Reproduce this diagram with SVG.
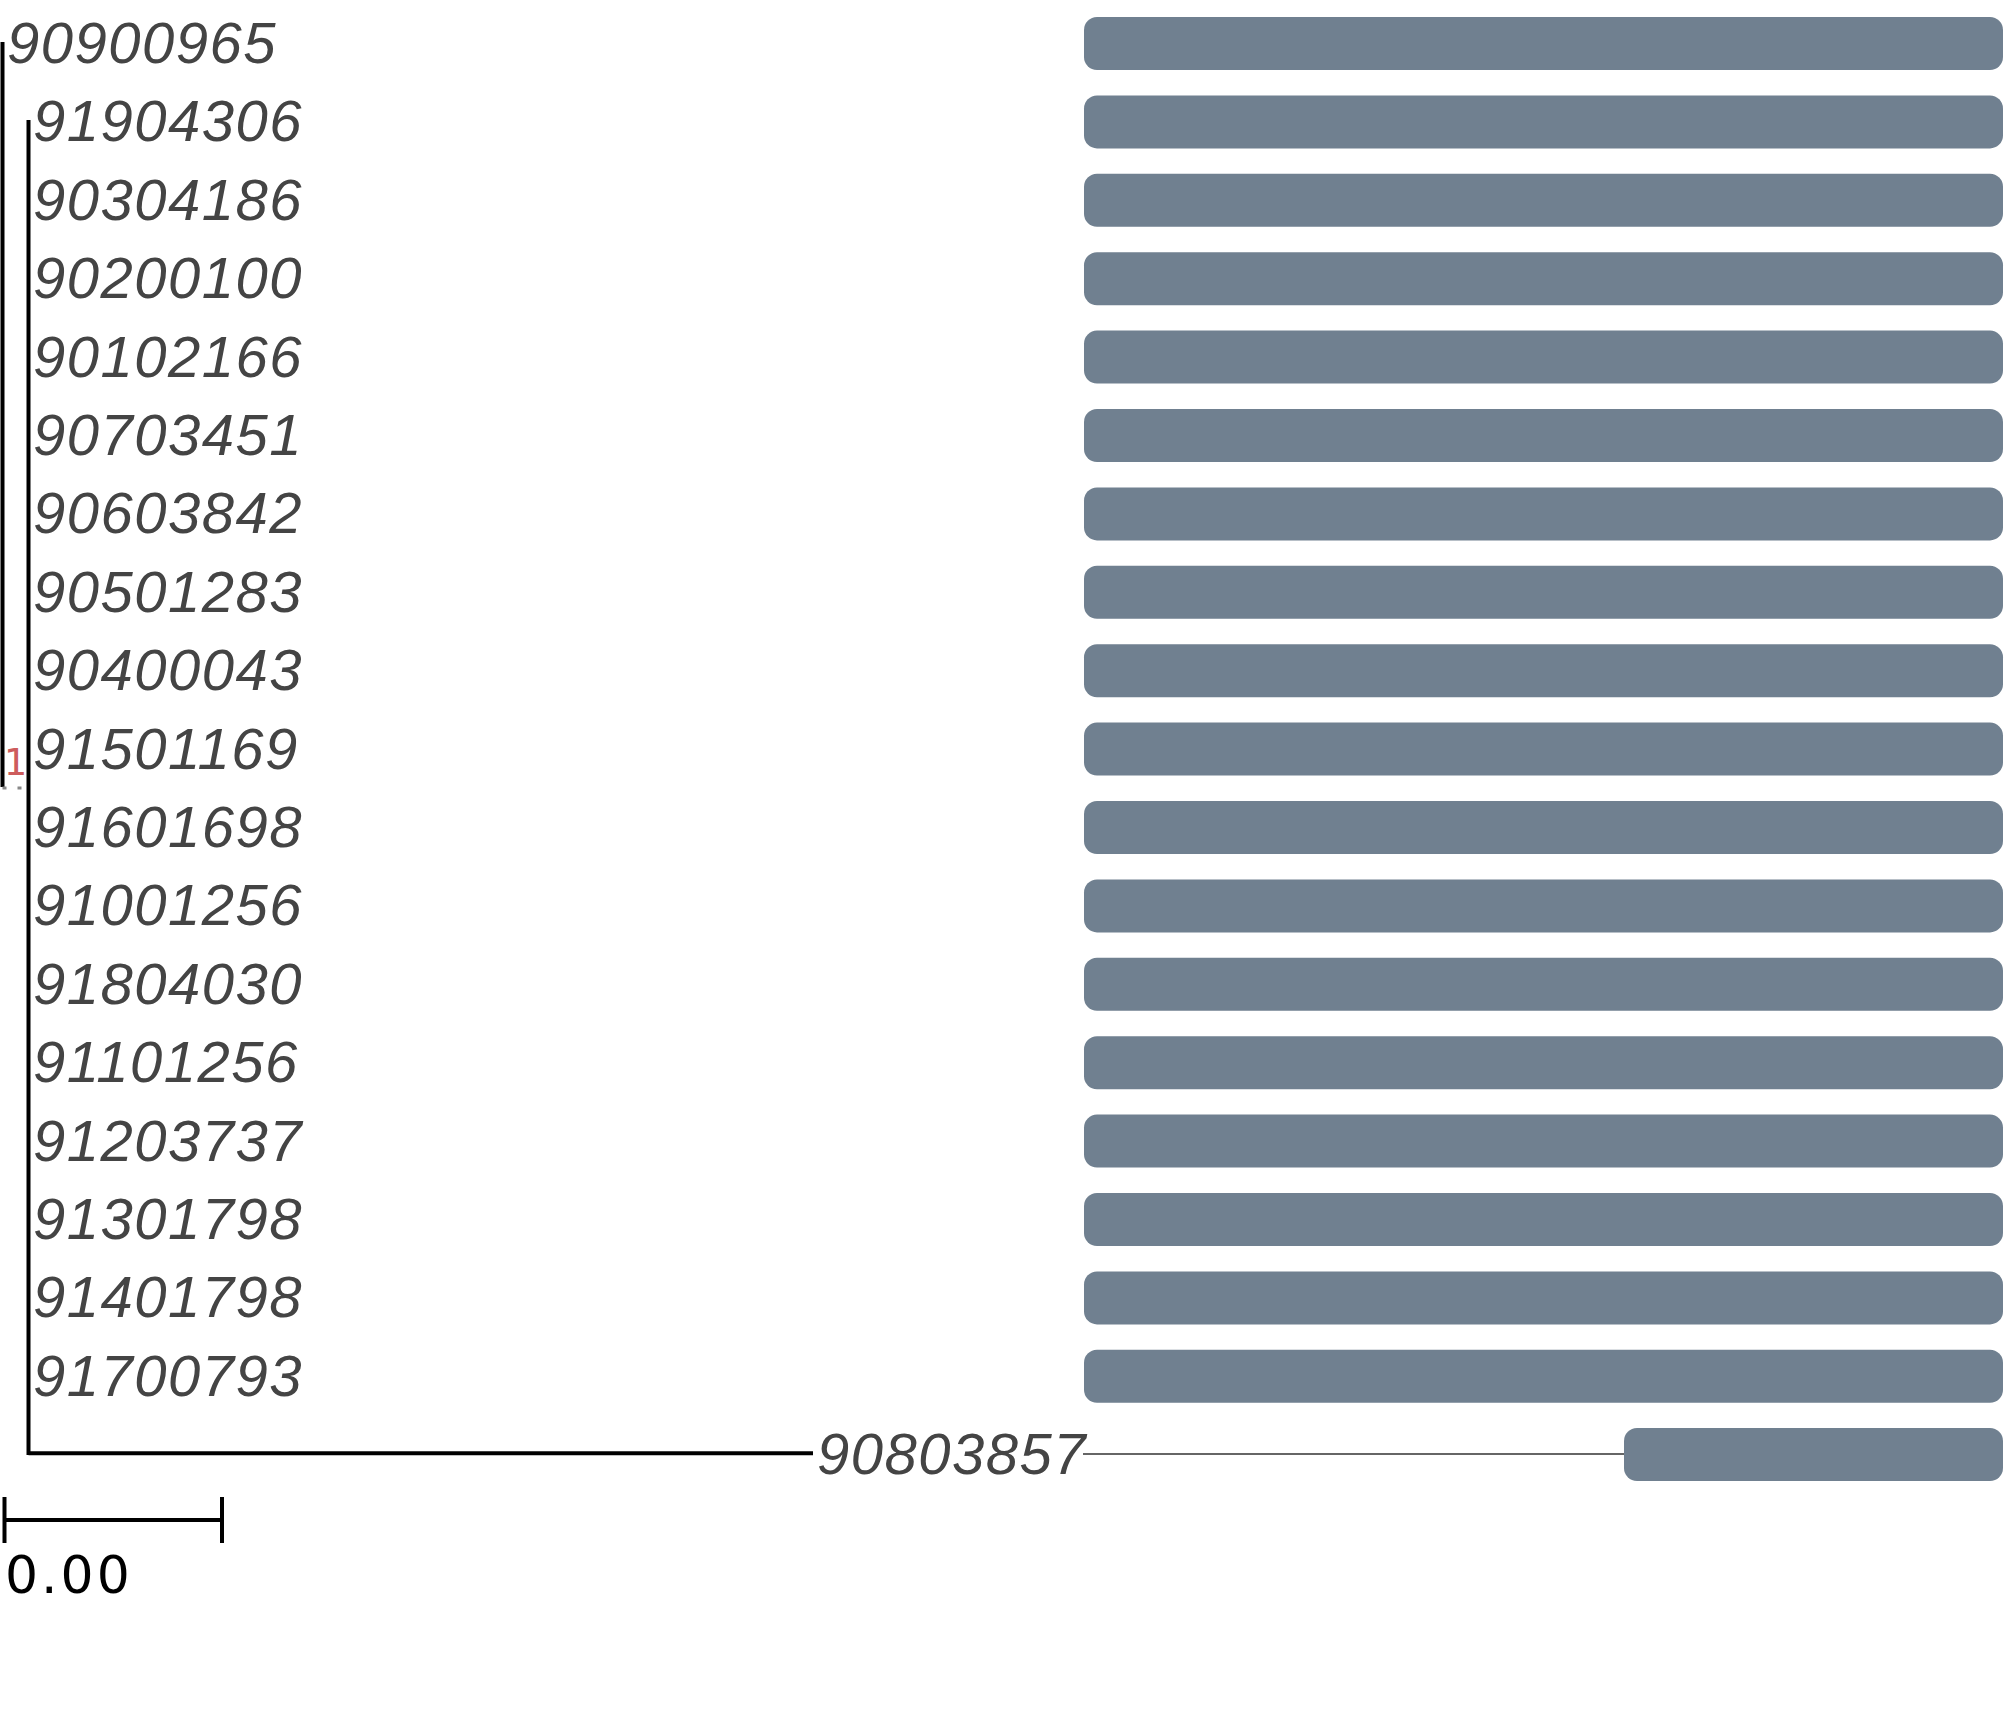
<svg xmlns="http://www.w3.org/2000/svg" width="2007" height="1716" viewBox="0 0 2007 1716">
<style>
.lab{font-family:"Liberation Sans",Arial,sans-serif;font-style:italic;font-size:58px;letter-spacing:1.5px;fill:#444444}
.bar{fill:#708090}
.br{stroke:#000;stroke-width:4;fill:none}
</style>
<rect width="2007" height="1716" fill="#ffffff"/>
<g id="connectors">
<line class="br" x1="2.5" y1="42" x2="2.5" y2="787"/>
<line x1="2.5" y1="788" x2="28.5" y2="788" stroke="#888" stroke-width="3" stroke-dasharray="4,11"/>
<line class="br" x1="28.5" y1="120" x2="28.5" y2="1455"/>
<line class="br" x1="28.5" y1="1453.2" x2="813" y2="1453.2"/>
<line x1="1083" y1="1454" x2="1624" y2="1454" stroke="#333" stroke-width="1.5"/>
</g>
<text id="support" x="15" y="775" font-family="DejaVu Sans Mono,monospace" font-size="38" fill="#cd5c5c" text-anchor="middle">1</text>
<g id="n0"><text class="lab" x="7" y="63">90900965</text><rect class="bar" x="1084" y="17" width="919" height="53" rx="13"/></g>
<g id="n1"><text class="lab" x="33" y="141.4">91904306</text><rect class="bar" x="1084" y="95.4" width="919" height="53" rx="13"/></g>
<g id="n2"><text class="lab" x="33" y="219.8">90304186</text><rect class="bar" x="1084" y="173.8" width="919" height="53" rx="13"/></g>
<g id="n3"><text class="lab" x="33" y="298.2">90200100</text><rect class="bar" x="1084" y="252.2" width="919" height="53" rx="13"/></g>
<g id="n4"><text class="lab" x="33" y="376.6">90102166</text><rect class="bar" x="1084" y="330.6" width="919" height="53" rx="13"/></g>
<g id="n5"><text class="lab" x="33" y="455">90703451</text><rect class="bar" x="1084" y="409" width="919" height="53" rx="13"/></g>
<g id="n6"><text class="lab" x="33" y="533.4">90603842</text><rect class="bar" x="1084" y="487.4" width="919" height="53" rx="13"/></g>
<g id="n7"><text class="lab" x="33" y="611.8">90501283</text><rect class="bar" x="1084" y="565.8" width="919" height="53" rx="13"/></g>
<g id="n8"><text class="lab" x="33" y="690.2">90400043</text><rect class="bar" x="1084" y="644.2" width="919" height="53" rx="13"/></g>
<g id="n9"><text class="lab" x="33" y="768.6">91501169</text><rect class="bar" x="1084" y="722.6" width="919" height="53" rx="13"/></g>
<g id="n10"><text class="lab" x="33" y="847">91601698</text><rect class="bar" x="1084" y="801" width="919" height="53" rx="13"/></g>
<g id="n11"><text class="lab" x="33" y="925.4">91001256</text><rect class="bar" x="1084" y="879.4" width="919" height="53" rx="13"/></g>
<g id="n12"><text class="lab" x="33" y="1003.8">91804030</text><rect class="bar" x="1084" y="957.8" width="919" height="53" rx="13"/></g>
<g id="n13"><text class="lab" x="33" y="1082.2">91101256</text><rect class="bar" x="1084" y="1036.2" width="919" height="53" rx="13"/></g>
<g id="n14"><text class="lab" x="33" y="1160.6">91203737</text><rect class="bar" x="1084" y="1114.6" width="919" height="53" rx="13"/></g>
<g id="n15"><text class="lab" x="33" y="1239">91301798</text><rect class="bar" x="1084" y="1193" width="919" height="53" rx="13"/></g>
<g id="n16"><text class="lab" x="33" y="1317.4">91401798</text><rect class="bar" x="1084" y="1271.4" width="919" height="53" rx="13"/></g>
<g id="n17"><text class="lab" x="33" y="1395.8">91700793</text><rect class="bar" x="1084" y="1349.8" width="919" height="53" rx="13"/></g>
<g id="n18"><text class="lab" x="817" y="1474.2">90803857</text><rect class="bar" x="1624" y="1428" width="379" height="53" rx="13"/></g>
<g id="scale">
<line class="br" x1="4.5" y1="1520" x2="222" y2="1520"/>
<line class="br" x1="4.5" y1="1497" x2="4.5" y2="1543"/>
<line class="br" x1="222" y1="1497" x2="222" y2="1543"/>
<text x="5" y="1593" font-family="DejaVu Sans,sans-serif" font-size="52" letter-spacing="3" fill="#000">0.00</text>
</g>
</svg>
